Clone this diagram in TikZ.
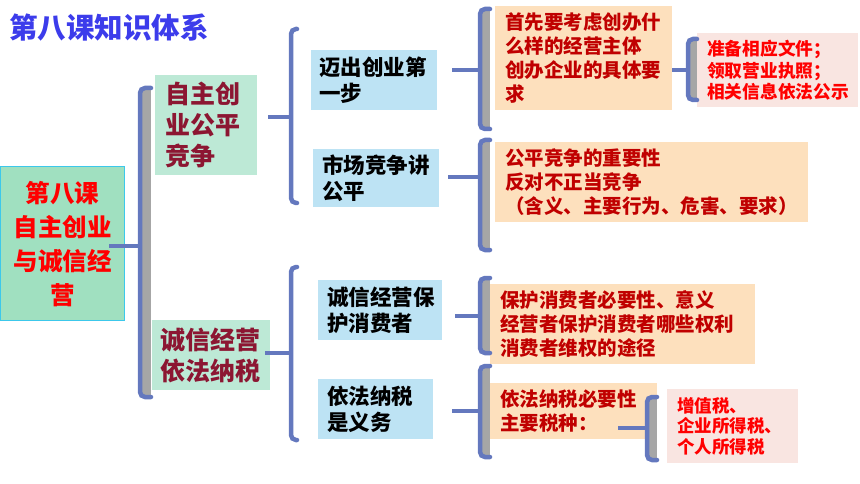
\documentclass[tikz,border=0pt]{standalone}
\usepackage{fontspec}
\setmainfont{Noto Sans CJK SC}
\definecolor{titreblue}{RGB}{60,60,235}
\definecolor{rootfill}{RGB}{160,224,192}
\definecolor{rootedge}{RGB}{60,200,235}
\definecolor{mintfill}{RGB}{189,233,214}
\definecolor{maroon}{RGB}{140,22,50}
\definecolor{skyfill}{RGB}{189,227,244}
\definecolor{peachfill}{RGB}{253,224,189}
\definecolor{darkred}{RGB}{192,0,0}
\definecolor{pinkfill}{RGB}{249,229,225}
\definecolor{braceblue}{RGB}{100,120,190}
\definecolor{bracegray}{RGB}{166,166,166}
\begin{document}
\begin{tikzpicture}[x=1pt,y=-1pt,
  kuang/.style={anchor=north west, inner ysep=1pt, align=left},
  racine/.style={kuang, fill=rootfill, draw=rootedge, line width=1.2pt, align=center, text=red, font=\bfseries\fontsize{24.5}{34}\selectfont},
  niveauA/.style={kuang, fill=mintfill, text=maroon, font=\bfseries\fontsize{25}{31}\selectfont},
  niveauB/.style={kuang, fill=skyfill, text=black, font=\bfseries\fontsize{21.5}{26}\selectfont},
  niveauC/.style={kuang, fill=peachfill, text=darkred, font=\bfseries\fontsize{19.5}{24}\selectfont},
  niveauD/.style={kuang, fill=pinkfill, text=red, font=\bfseries\fontsize{17.7}{21.5}\selectfont},
  kuohao/.style={draw=braceblue, line width=4.5pt, rounded corners=5pt, line cap=round},
  huise/.style={fill=bracegray},
  lianxian/.style={draw=braceblue, line width=4.5pt}
]
\useasboundingbox (0,0) rectangle (860,484);

%le titre
\node[anchor=west, inner sep=0pt, text=titreblue, font=\bfseries\fontsize{28.5}{30}\selectfont] (biaoti) at (9,28) {第八课知识体系};

%les cases
\node[racine, minimum width=124, minimum height=154, text width=116, inner xsep=4] (root) at (0,166) {第八课\\自主创业\\与诚信经\\营};

\node[niveauA, minimum height=100, text width=82, inner xsep=10] (zizhu) at (155,75) {自主创\\业公平\\竞争};
\node[niveauA, minimum height=70, text width=102, inner xsep=8] (chengxin) at (152,320) {诚信经营\\依法纳税};

\node[niveauB, minimum height=60, text width=110, inner xsep=8] (maichu) at (311,50) {迈出创业第\\一步};
\node[niveauB, minimum height=58, text width=108, inner xsep=9] (shichang) at (313,149) {市场竞争讲\\公平};
\node[niveauB, minimum height=60, text width=106, inner xsep=9] (baohu) at (318,280) {诚信经营保\\护消费者};
\node[niveauB, minimum height=60, text width=97, inner xsep=9] (nashui) at (318,379) {依法纳税\\是义务};

\node[niveauC, minimum height=104, text width=157, inner xsep=10] (zhuti) at (495,6) {首先要考虑创办什\\么样的经营主体\\创办企业的具体要\\求};
\node[niveauC, minimum height=80, text width=293, inner xsep=10] (jingzheng) at (495,142) {公平竞争的重要性\\反对不正当竞争\\（含义、主要行为、危害、要求）};
\node[niveauC, minimum height=80, text width=245, inner xsep=10] (xiaofei) at (490,284) {保护消费者必要性、意义\\经营者保护消费者哪些权利\\消费者维权的途径};
\node[niveauC, minimum height=56, text width=147, inner xsep=10] (shuizhong) at (490,383) {依法纳税必要性\\主要税种：};

\node[niveauD, minimum height=74, text width=141, inner xsep=10] (wenjian) at (697,33) {准备相应文件；\\领取营业执照；\\相关信息依法公示};
\node[niveauD, minimum height=74, text width=111, inner xsep=10, font=\bfseries\fontsize{17.5}{20.5}\selectfont] (shuizhi) at (667,389) {增值税、\\企业所得税、\\个人所得税};

%les accolades
\fill[huise] (140,88) rectangle (151,397);
\draw[kuohao] (151,88) -- (140,88) -- (140,397) -- (151,397);
\coordinate (k1) at (140,246);

\draw[kuohao] (297,29) -- (291,29) -- (291,203) -- (297,203);
\coordinate (k2) at (291,117);
\draw[kuohao] (297,267) -- (291,267) -- (291,440) -- (297,440);
\coordinate (k3) at (291,353);

\fill[huise] (480,9) rectangle (490,129);
\draw[kuohao] (490,9) -- (480,9) -- (480,129) -- (490,129);
\coordinate (k4) at (480,70);
\fill[huise] (480,140) rectangle (490,250);
\draw[kuohao] (490,140) -- (480,140) -- (480,250) -- (490,250);
\coordinate (k5) at (480,177);
\fill[huise] (480,278) rectangle (490,353);
\draw[kuohao] (490,278) -- (480,278) -- (480,353) -- (490,353);
\coordinate (k6) at (480,316);
\fill[huise] (480,366) rectangle (490,457);
\draw[kuohao] (490,366) -- (480,366) -- (480,457) -- (490,457);
\coordinate (k7) at (480,411);

\fill[huise] (688,39) rectangle (697,100);
\draw[kuohao] (697,39) -- (688,39) -- (688,100) -- (697,100);
\coordinate (k8) at (688,70);
\fill[huise] (647,397) rectangle (657,460);
\draw[kuohao] (657,397) -- (647,397) -- (647,460) -- (657,460);
\coordinate (k9) at (647,428);

%les liaisons
\draw[lianxian] (k1 -| root.east) ++(-16,0) -- (k1);
\draw[lianxian] (k2 -| zizhu.east) ++(11,0) -- (k2);
\draw[lianxian] (k3 -| chengxin.east) ++(-5,0) -- (k3);
\draw[lianxian] (k4 -| maichu.east) ++(15,0) -- (k4);
\draw[lianxian] (k5 -| shichang.east) ++(9,0) -- (k5);
\draw[lianxian] (k6 -| baohu.east) ++(13,0) -- (k6);
\draw[lianxian] (k7 -| nashui.east) ++(19,0) -- (k7);
\draw[lianxian] (k8 -| zhuti.east) -- (k8);
\draw[lianxian] (k9 -| shuizhong.east) ++(-39,0) -- (k9);

\end{tikzpicture}
\end{document}
